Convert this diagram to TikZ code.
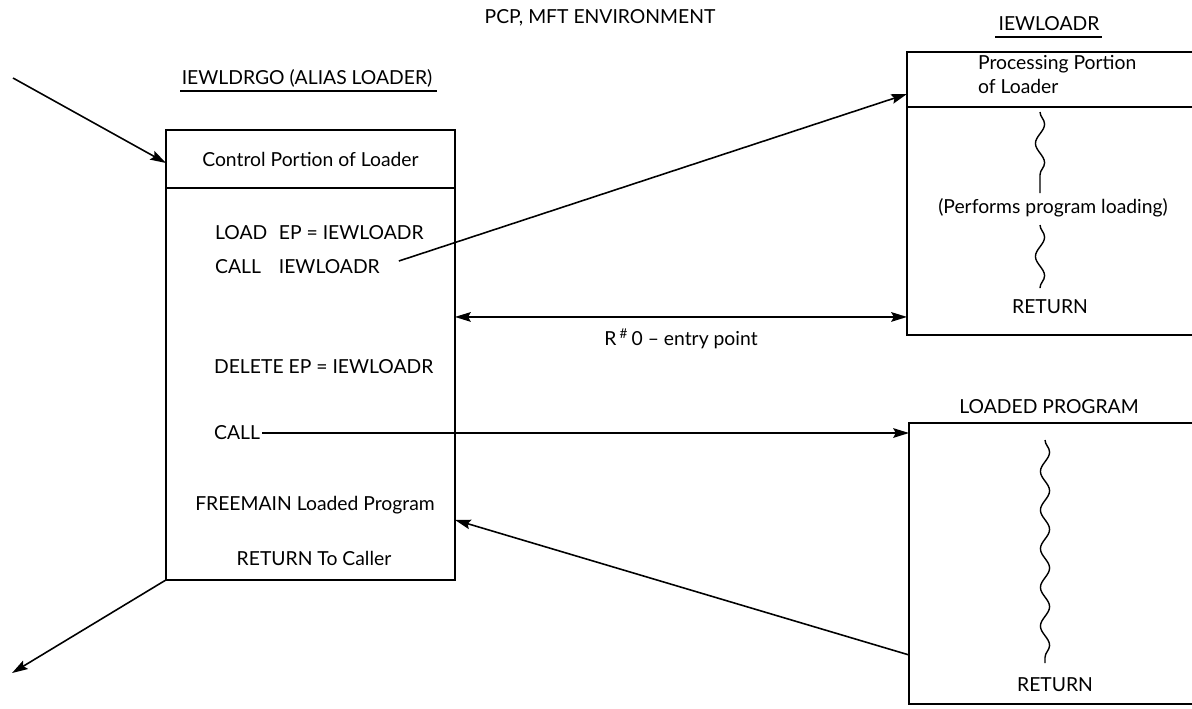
\documentclass[tikz,border=0pt]{standalone}
\usepackage{fontspec}
\setmainfont{Lato}
\usetikzlibrary{arrows.meta,calc,positioning,decorations.pathmorphing}

\begin{document}
\begin{tikzpicture}[x=0.02cm,y=-0.02cm,font=\fontsize{11pt}{13pt}\selectfont,
    box/.style={draw,line width=1.1pt,inner sep=0pt,outer sep=0pt,anchor=north west},
    txt/.style={inner sep=1pt},
    arr/.style={line width=0.9pt,-{Stealth[length=9pt,width=5.5pt,inset=1.5pt]}},
    dbl/.style={line width=0.9pt,{Stealth[length=9pt,width=5.5pt,inset=1.5pt]}-{Stealth[length=9pt,width=5.5pt,inset=1.5pt]}},
    wavy/.style={line width=0.8pt,decorate,decoration={snake,amplitude=2.6pt,segment length=22pt}}]
 \useasboundingbox (0,0) rectangle (1192,708);
 \node[txt] (title) at (600,18) {PCP, MFT ENVIRONMENT};
 % control portion
 \node[txt] (ctlname) at (307,78) {IEWLDRGO (ALIAS LOADER)};
 \draw[line width=0.9pt] (180,91) -- (437,91);
 \node[box,minimum width=5.78cm,minimum height=1.16cm] (ctlhead) at (166,130) {Control Portion of Loader};
 \node[box,minimum width=5.78cm,minimum height=7.84cm,below=0pt of ctlhead] (ctlbody) {};
 \node[txt,anchor=west] (load) at (213,233) {\makebox[3.3em][l]{LOAD}EP = IEWLOADR};
 \node[txt,anchor=west] (callldr) at (213,267) {\makebox[3.3em][l]{CALL}IEWLOADR};
 \node[txt,anchor=west] (delete) at (212,367) {DELETE EP = IEWLOADR};
 \node[txt,anchor=west] (call) at (212,433) {CALL};
 \node[txt] (freemain) at (315,505) {FREEMAIN Loaded Program};
 \node[txt] (retcaller) at (314,558) {RETURN To Caller};
 % processing portion
 \node[txt] (ldrname) at (1049,24) {IEWLOADR};
 \draw[line width=0.9pt] (995,37) -- (1102,37);
 \node[box,minimum width=6.26cm,minimum height=1.1cm] (ldrhead) at (907,52) {};
 \node[box,minimum width=6.26cm,minimum height=4.56cm,below=0pt of ldrhead] (ldrbody) {};
 \node[txt,anchor=north west,align=left] (proc) at (976,53) {Processing Portion\\[1pt]of Loader};
 \draw[wavy] (1040,112) -- (1040,193);
 \node[txt] (performs) at (1053,208) {(Performs program loading)};
 \draw[wavy] (1040,225) -- (1040,288);
 \node[txt] (ldrret) at (1050,307) {RETURN};
 % loaded program
 \node[txt] (progname) at (1049,407) {LOADED PROGRAM};
 \node[box,minimum width=6.22cm,minimum height=5.62cm] (prog) at (909,423) {};
 \draw[wavy] (1045,440) -- (1045,663);
 \node[txt] (progret) at (1055,685) {RETURN};
 % connectors
 \coordinate (caller) at (13,78);
 \coordinate (exit) at (12,673);
 \coordinate (r0) at ($(ldrbody.south west)+(0,-18)$);
 \draw[arr] (caller) -- ($(ctlhead.south west)+(0,-25)$);
 \draw[arr] (ctlbody.south west) -- (exit);
 \draw[arr] ($(callldr.east)+(17,-6)$) -- ($(ldrhead.south west)+(0,-13)$);
 \draw[dbl] (ctlbody.east |- r0) -- (r0) node[midway,below=3pt] (r0lbl) {R\,\textsuperscript{\#}\,0 -- entry point};
 \draw[arr] (call.east) -- (call.east -| prog.west);
 \draw[arr] ($(prog.south west)+(0,-49)$) -- ($(ctlbody.south east)+(0,-60)$);
\end{tikzpicture}
\end{document}
